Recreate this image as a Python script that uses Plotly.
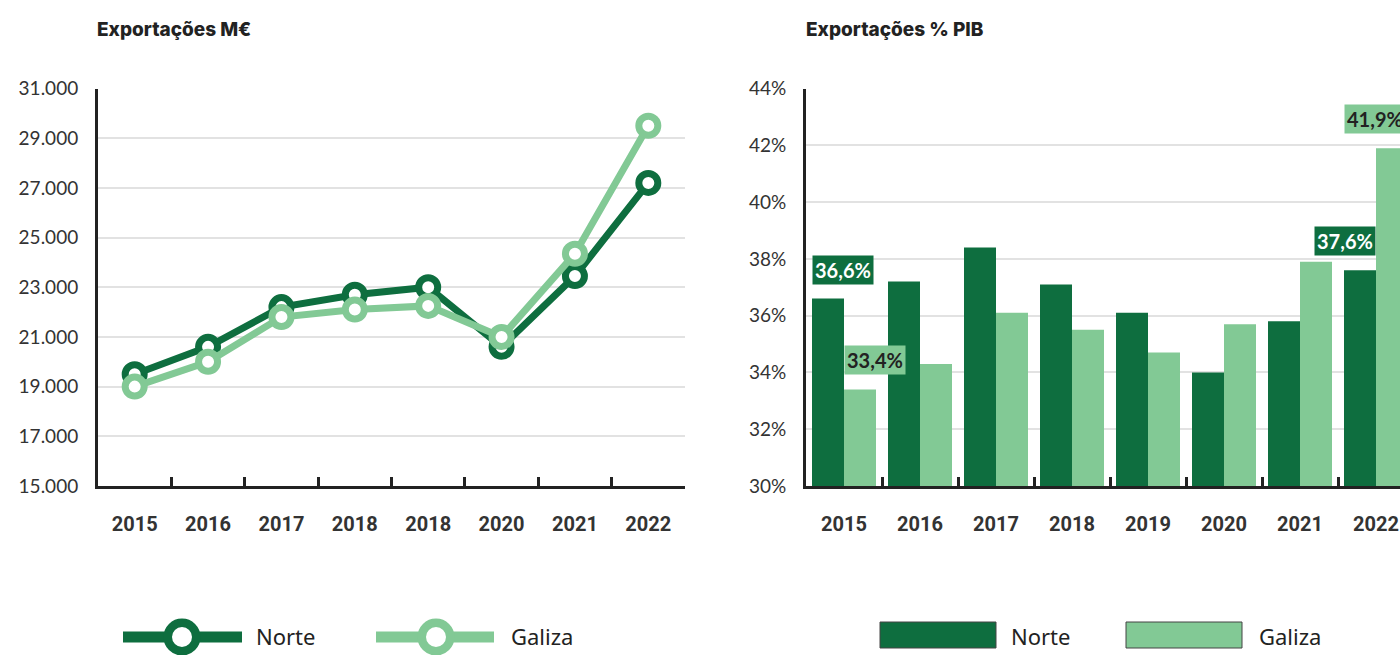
import plotly.graph_objects as go

# ---------------- data ----------------
YEARS_LEFT = ["2015", "2016", "2017", "2018", "2018", "2020", "2021", "2022"]
NORTE_MEUR = [19500, 20600, 22200, 22700, 23000, 20600, 23450, 27200]
GALIZA_MEUR = [19000, 20000, 21800, 22100, 22250, 21000, 24350, 29500]
Y_LEFT_TICKS = [15000, 17000, 19000, 21000, 23000, 25000, 27000, 29000, 31000]

YEARS_RIGHT = ["2015", "2016", "2017", "2018", "2019", "2020", "2021", "2022"]
NORTE_PIB = [36.6, 37.2, 38.4, 37.1, 36.1, 34.0, 35.8, 37.6]
GALIZA_PIB = [33.4, 34.3, 36.1, 35.5, 34.7, 35.7, 37.9, 41.9]
Y_RIGHT_TICKS = [30, 32, 34, 36, 38, 40, 42, 44]

SERIES = ["Norte", "Galiza"]
TITLE_LEFT = "Exportações M€"
TITLE_RIGHT = "Exportações % PIB"

# ---------------- style ----------------
W, H = 1400, 655
C_NORTE = "#0e6e3f"
C_GALIZA = "#82c995"
AX = "#222222"
GRID = "#e2e2e2"
TXT = "#333333"


def px(x):
    return x / W


def py(y):
    return 1 - y / H


BARGAP = 0.158
BAR_W = (1 - BARGAP) / 2

# right axis range: last category is cut by the page edge
R_LEFT, R_RIGHT = 806, 1400
CAT_W = 76
r_end = -0.5 + (R_RIGHT - R_LEFT) / CAT_W

fig = go.Figure()

idx = list(range(len(YEARS_LEFT)))
for name, vals, col in [("Norte", NORTE_MEUR, C_NORTE), ("Galiza", GALIZA_MEUR, C_GALIZA)]:
    fig.add_trace(go.Scatter(
        x=idx, y=vals, name=name, mode="lines+markers",
        line=dict(color=col, width=7),
        marker=dict(symbol="circle", size=19, color="white", line=dict(color=col, width=7)),
        xaxis="x", yaxis="y", showlegend=False, cliponaxis=False,
    ))

for name, vals, col in [("Norte", NORTE_PIB, C_NORTE), ("Galiza", GALIZA_PIB, C_GALIZA)]:
    fig.add_trace(go.Bar(
        x=YEARS_RIGHT, y=vals, name=name, marker=dict(color=col, line=dict(width=0)),
        xaxis="x2", yaxis="y2", showlegend=False,
    ))

ydom = [py(486), py(88.5)]
tickfont_x = dict(family="Roboto", size=20, color=TXT, weight="bold")
tickfont_y = dict(family="Lato", size=19, color=TXT)

left_tick_text = [f"{v:,}".replace(",", ".") for v in Y_LEFT_TICKS]
right_tick_text = [f"{v}%" for v in Y_RIGHT_TICKS]

fig.update_layout(
    template="none",
    width=W, height=H, autosize=False,
    margin=dict(l=0, r=0, t=0, b=0, pad=0, autoexpand=False),
    paper_bgcolor="white", plot_bgcolor="white",
    barmode="group", bargap=BARGAP, bargroupgap=0,
    xaxis=dict(
        domain=[px(98), px(685)], type="category", range=[-0.5, 7.5], automargin=False,
        tickmode="array", tickvals=idx, ticktext=YEARS_LEFT,
        tickson="boundaries", ticks="inside", ticklen=9, tickwidth=2.5, tickcolor=AX,
        showline=True, linecolor=AX, linewidth=3, showgrid=False,
        tickfont=tickfont_x, ticklabelstandoff=18, fixedrange=True,
    ),
    yaxis=dict(
        domain=ydom, range=[15000, 31000], tickmode="array", tickvals=Y_LEFT_TICKS,
        ticktext=left_tick_text, showline=True, linecolor=AX, linewidth=3, automargin=False,
        showgrid=True, gridcolor=GRID, gridwidth=1.5, zeroline=False,
        ticks="", tickfont=tickfont_y, ticklabelstandoff=13, fixedrange=True,
    ),
    xaxis2=dict(
        domain=[px(R_LEFT), 1.0], type="category", range=[-0.5, r_end], automargin=False,
        tickson="boundaries", ticks="inside", ticklen=9, tickwidth=2.5, tickcolor=AX,
        showline=True, linecolor=AX, linewidth=3, showgrid=False,
        tickfont=tickfont_x, ticklabelstandoff=18, anchor="y2", fixedrange=True,
    ),
    yaxis2=dict(
        domain=ydom, range=[30, 44], tickmode="array", tickvals=Y_RIGHT_TICKS,
        ticktext=right_tick_text, showline=True, linecolor=AX, linewidth=3, automargin=False,
        showgrid=True, gridcolor=GRID, gridwidth=1.5, zeroline=False,
        ticks="", tickfont=tickfont_y, ticklabelstandoff=13, anchor="x2", fixedrange=True,
    ),
)

ann = []
# titles
for txt, x in [(TITLE_LEFT, 95), (TITLE_RIGHT, 804)]:
    ann.append(dict(text=txt, xref="paper", yref="paper", x=px(x), y=py(30),
                    xanchor="left", yanchor="middle", showarrow=False,
                    font=dict(family="Inter", size=19, color="#222222", weight=800)))

# value labels on selected bars: (series, category index, anchor position)
LABELS = [("Norte", 0, "nleft"), ("Galiza", 0, "gleft"), ("Norte", 7, "mid_right"), ("Galiza", 7, "nleft")]
for ser, i, pos in LABELS:
    vals = NORTE_PIB if ser == "Norte" else GALIZA_PIB
    v = vals[i]
    if pos == "nleft":
        xv, xa = i - BAR_W, "left"
    elif pos == "gleft":
        xv, xa = i, "left"
    else:
        xv, xa = i, "right"
    dark = ser == "Norte"
    ann.append(dict(
        text=f"<b>{v:.1f}%</b>".replace(".", ","), xref="x2", yref="y2", x=xv, y=v,
        xanchor=xa, yanchor="bottom", yshift=14, showarrow=False,
        bgcolor=C_NORTE if dark else C_GALIZA, borderpad=2,
        font=dict(family="Lato", size=20, color="white" if dark else "#222222"),
    ))

shapes = []
legfont = dict(family="Noto Sans", size=22, color="#222222")
# left legend (line + open circle)
LEG_Y = 637
for name, col, x0, x1, cx, tx in [("Norte", C_NORTE, 123, 242, 182, 254),
                                  ("Galiza", C_GALIZA, 376, 494, 436, 509)]:
    shapes.append(dict(type="line", xref="paper", yref="paper", x0=px(x0), x1=px(x1),
                       y0=py(LEG_Y), y1=py(LEG_Y), line=dict(color=col, width=11)))
    r = 14.25
    shapes.append(dict(type="circle", xref="paper", yref="paper",
                       x0=px(cx - r), x1=px(cx + r), y0=py(LEG_Y + r), y1=py(LEG_Y - r),
                       fillcolor="white", line=dict(color=col, width=8.5)))
    ann.append(dict(text=name, xref="paper", yref="paper", x=px(tx), y=py(LEG_Y - 1),
                    xanchor="left", yanchor="middle", showarrow=False, font=legfont))

# right legend (boxes)
for name, col, x0, x1, tx in [("Norte", C_NORTE, 880, 996, 1009),
                              ("Galiza", C_GALIZA, 1126, 1242, 1257)]:
    shapes.append(dict(type="rect", xref="paper", yref="paper", x0=px(x0), x1=px(x1),
                       y0=py(648), y1=py(622), fillcolor=col,
                       line=dict(color="#444444", width=1)))
    ann.append(dict(text=name, xref="paper", yref="paper", x=px(tx), y=py(636),
                    xanchor="left", yanchor="middle", showarrow=False, font=legfont))

fig.update_layout(annotations=ann, shapes=shapes)

POST = (
    "document.documentElement.style.margin='0';"
    "document.documentElement.style.overflow='hidden';"
    "document.body.style.margin='0';document.body.style.overflow='hidden';"
    "var d=document.getElementById('{plot_id}');"
    "d.style.position='fixed';d.style.top='0px';d.style.left='0px';"
)
fig.write_html("out.html", config={"displayModeBar": False}, post_script=POST)
